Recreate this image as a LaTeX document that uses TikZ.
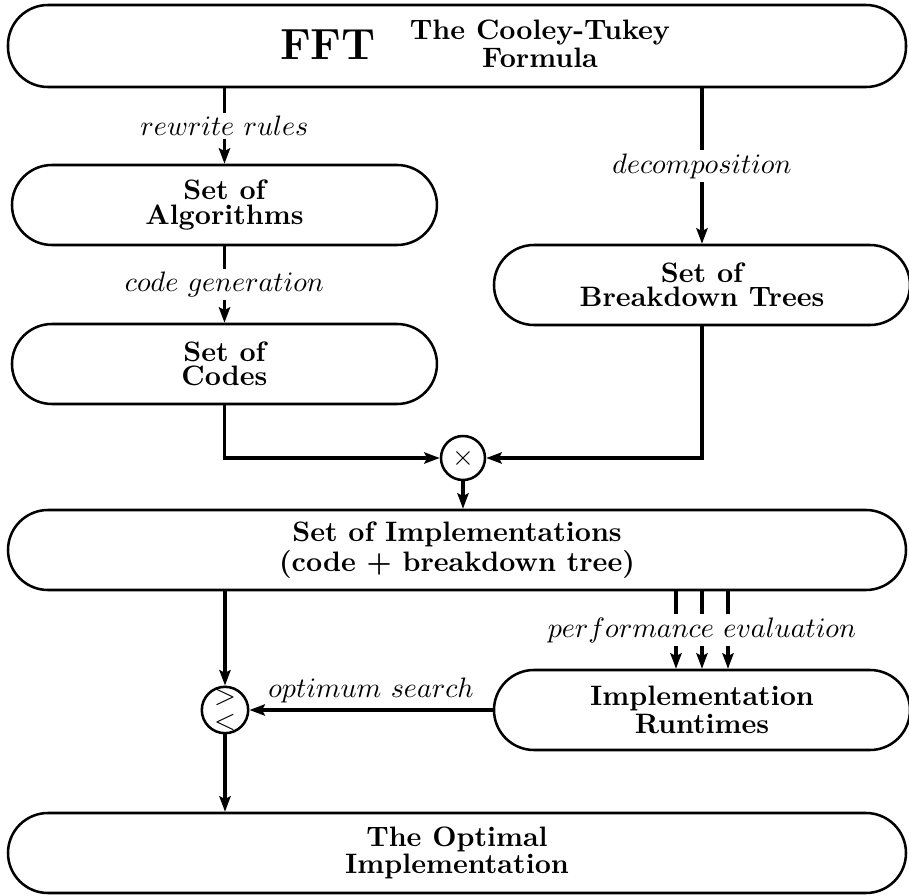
\documentclass[tikz,border=0pt]{standalone}
\usepackage{tikz}
\usetikzlibrary{arrows.meta, positioning}
\usepackage{amsmath}

\begin{document}
\begin{tikzpicture}[
    box/.style={draw, line width=0.9pt, rounded corners=0.5cm, minimum height=1cm,
                font=\fontsize{10}{8.6}\selectfont\bfseries, align=center, inner sep=0pt},
    op/.style={draw, circle, line width=0.9pt, minimum size=0.55cm, inner sep=0pt},
    flow/.style={line width=1.1pt, -{Stealth[length=5.5pt, width=4pt, inset=1pt]}},
    lbl/.style={fill=white, inner sep=1.2pt}
  ]
    \useasboundingbox (0,0) rectangle (11.3625,-11.2);

    % Top box
    \node[box, minimum width=11.225cm, minimum height=1.025cm] (TOP) at (5.7125,-0.575) {};
    \node[font=\fontsize{15.5}{16}\selectfont\bfseries, anchor=base] (FFT) at (4.1,-0.75) {FFT};
    \node[font=\fontsize{10}{8.6}\selectfont\bfseries, align=center] (CTF) at (6.75,-0.55)
          {The Cooley-Tukey\\Formula};

    % Left column
    \node[box, minimum width=5.3125cm] (ALG) at (2.806,-2.5625) {Set of\\Algorithms};
    \node[box, minimum width=5.3125cm] (COD) at (2.806,-4.55) {Set of\\Codes};

    % Right column
    \node[box, minimum width=5.2cm] (BDT) at (8.775,-3.5625) {Set of\\Breakdown Trees};

    % Operators
    \node[op] (MUL) at (5.7875,-5.725) {$\times$};
    \node[op] (CMP) at (2.8125,-8.875) {\shortstack{$>$\\$<$}};

    % Lower boxes
    \node[box, minimum width=11.225cm] (IMP) at (5.7125,-6.875)
          {Set of Implementations\\(code + breakdown tree)};
    \node[box, minimum width=5.2cm] (RUN) at (8.775,-8.875) {Implementation\\Runtimes};
    \node[box, minimum width=11.225cm] (OPT) at (5.7125,-10.6625)
          {The Optimal\\Implementation};

    % Arrows
    \draw[flow] (ALG.north |- TOP.south) -- node[lbl] {$rewrite\ rules$} (ALG.north);
    \draw[flow] (BDT.north |- TOP.south) -- node[lbl] {$decomposition$} (BDT.north);
    \draw[flow] (ALG.south) -- node[lbl] {$code\ generation$} (COD.north);
    \draw[flow] (COD.south) |- (MUL.west);
    \draw[flow] (BDT.south) |- (MUL.east);
    \draw[flow] (MUL.south) -- (MUL.south |- IMP.north);
    \foreach \dx in {-0.325,0,0.325}
      \draw[flow] ([xshift=\dx cm]RUN.north |- IMP.south) -- ([xshift=\dx cm]RUN.north);
    \node[lbl] (PERF) at (8.775,-7.875) {$performance\ evaluation$};
    \draw[flow] (CMP.north |- IMP.south) -- (CMP.north);
    \draw[flow] (RUN.west) -- node[above, inner sep=2pt] {$optimum\ search$} (CMP.east);
    \draw[flow] (CMP.south) -- (CMP.south |- OPT.north);
\end{tikzpicture}
\end{document}
